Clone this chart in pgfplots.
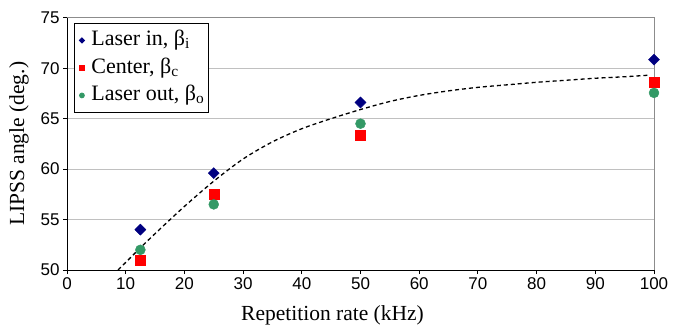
\documentclass[border=0pt]{standalone}
\usepackage{fontspec}
\setmainfont{Liberation Serif}
\newfontfamily\arialf{Liberation Sans}
\usepackage{pgfplots}
\pgfplotsset{compat=1.18}
\definecolor{navyb}{RGB}{0,0,128}
\definecolor{seagreen}{RGB}{51,153,102}
\definecolor{gridgray}{RGB}{192,192,192}
\definecolor{boxgray}{RGB}{140,140,140}
\begin{document}
\begin{tikzpicture}[x=1pt,y=1pt]
\useasboundingbox (-67,-59) rectangle (609,270);
\begin{axis}[
 at={(0,0)}, anchor=south west,
 scale only axis, width=587pt, height=252.3pt,
 xmin=0, xmax=100, ymin=50, ymax=75,
 xtick={0,10,...,100}, ytick={50,55,...,75},
 axis x line*=bottom, axis y line*=left,
 axis line style={-, black, line width=0.9pt},
 tick align=outside, major tick length=4pt,
 tick style={black, line width=0.9pt},
 ymajorgrids, grid style={draw=gridgray, line width=0.9pt},
 tick label style={font=\arialf\fontsize{17}{17}\selectfont},
 /pgf/number format/assume math mode=true,
 xlabel={Repetition rate (kHz)}, ylabel={LIPSS angle (deg.)},
 label style={font=\fontsize{21.5}{23}\selectfont},
 xlabel style={xshift=-28pt, yshift=-9pt},
 ylabel style={yshift=5pt},
 legend cell align=left,
 legend style={at={(0.012,0.98)}, anchor=north west, draw=black, line width=0.9pt,
   font=\fontsize{22}{24}\selectfont, inner xsep=3pt, inner ysep=5.5pt, row sep=4pt,
   nodes={inner sep=1pt, text height=16pt, text depth=5.5pt}},
 legend image code/.code={\draw[#1] plot coordinates {(0pt,0pt)}; \path (-4pt,0pt) (8pt,0pt);},
 clip=false,
]
\draw[boxgray, line width=0.9pt] (axis cs:0,75) -- (axis cs:100,75) -- (axis cs:100,50);
\addplot[only marks, mark=square*, mark size=3.9pt, mark options={rotate=45, fill=navyb, draw=navyb},
  legend image post style={mark size=1.8pt}]
  coordinates {(12.5,54.0) (25,59.6) (50,66.6) (100,70.85)};
\addlegendentry{Laser in, β\textsubscript{i}}
\addplot[only marks, mark=square*, mark size=5pt, mark options={fill=red, draw=red},
  legend image post style={mark size=2.4pt}]
  coordinates {(12.5,51.0) (25,57.55) (50,63.4) (100,68.6)};
\addlegendentry{Center, β\textsubscript{c}}
\addplot[only marks, mark=*, mark size=5pt, mark options={fill=seagreen, draw=seagreen},
  legend image post style={mark size=2.4pt}]
  coordinates {(12.5,52.0) (25,56.5) (50,64.5) (100,67.55)};
\addlegendentry{Laser out, β\textsubscript{o}}
\addplot[black, line width=1.3pt, dash pattern=on 4pt off 3pt, smooth, forget plot]
  coordinates {(8.7,50.0) (12.5,52.2) (15,53.6) (20,56.3) (25,58.8) (30,61.0) (35,62.7)
   (40,64.0) (45,65.0) (50,65.9) (55,66.7) (60,67.3) (65,67.75) (70,68.1) (75,68.35)
   (80,68.6) (85,68.8) (90,69.0) (95,69.15) (99,69.3)};
\end{axis}
\end{tikzpicture}
\end{document}
